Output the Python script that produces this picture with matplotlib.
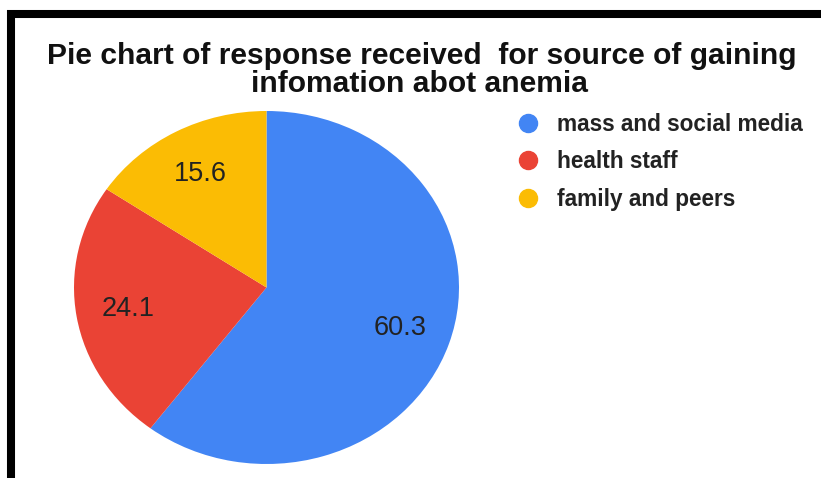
import matplotlib.pyplot as plt
from matplotlib.lines import Line2D

plt.rcParams['font.family'] = ['Liberation Sans', 'DejaVu Sans']

# donnees
sources = ["mass and social media", "health staff", "family and peers"]
valeurs = [60.3, 24.1, 15.6]
couleurs = ["#4285F4", "#EA4335", "#FBBC04"]

titre1 = "Pie chart of response received  for source of gaining"
titre2 = "infomation abot anemia"

W, H = 821, 486
fig = plt.figure(figsize=(W / 100, H / 100), dpi=100)

# cadre noir (haut + gauche)
fig.add_artist(Line2D([7 / W, 1], [1 - 14 / H, 1 - 14 / H], color="black", lw=5.8,
                      solid_capstyle="butt", transform=fig.transFigure))
fig.add_artist(Line2D([11 / W, 11 / W], [1 - 10 / H, 1 - 478 / H], color="black", lw=5.8,
                      solid_capstyle="butt", transform=fig.transFigure))

# le camembert est un peu etire horizontalement
ax = fig.add_axes([74 / W, 1 - 464 / H, 385 / W, 353 / H])
wedges, textes, pcts = ax.pie(valeurs, colors=couleurs, startangle=90, counterclock=False,
                              autopct=lambda p: "{:.1f}".format(p), pctdistance=0.73,
                              textprops={"fontsize": 19.5, "color": "#222222"})
ax.set_aspect("auto")
ax.set_xlim(-1, 1)
ax.set_ylim(-1, 1)

fig.text(422 / W, 1 - 64 / H, titre1, ha="center", va="baseline",
         fontsize=21.6, fontweight="bold", color="#111111")
fig.text(419 / W, 1 - 91.5 / H, titre2, ha="center", va="baseline",
         fontsize=21.6, fontweight="bold", color="#111111")

poignees = [Line2D([], [], marker="o", ls="", markersize=13, color=c) for c in couleurs]
leg = fig.legend(poignees, sources, loc="upper left", bbox_to_anchor=(505 / W, 1 - 104 / H),
                 frameon=False, prop={"size": 16.3, "weight": "bold"}, labelspacing=0.63,
                 handlelength=1.2, handletextpad=0.68, borderaxespad=0)
for t in leg.get_texts():
    t.set_color("#222222")

fig.savefig("out.png", dpi=100)
